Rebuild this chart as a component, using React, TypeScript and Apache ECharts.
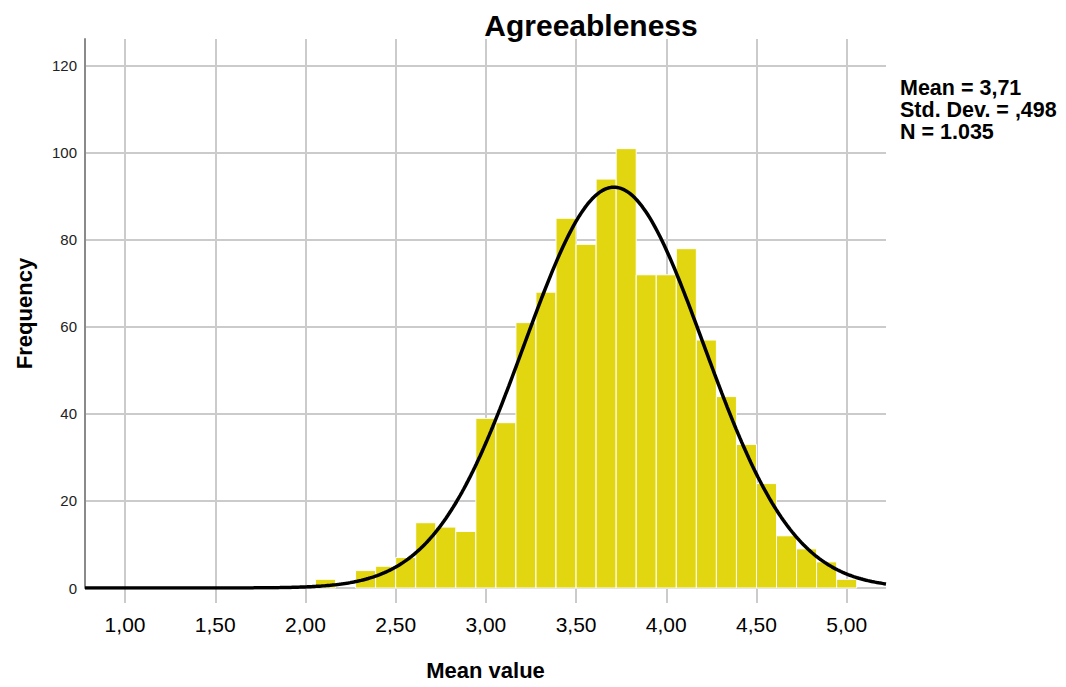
import React, { useEffect, useRef } from 'react';
import * as echarts from 'echarts';

const TITLE = 'Agreeableness';
const X_NAME = 'Mean value';
const Y_NAME = 'Frequency';
const STATS_LINES = ['Mean = 3,71', 'Std. Dev. = ,498', 'N = 1.035'];

// Summary statistics shown in the chart (used for the fitted normal curve)
const MEAN = 3.71;
const SD = 0.498;
const N = 1035;

// Histogram bins: centres (mean of 9 items => steps of 1/9) and counts
const BIN_WIDTH = 1 / 9;
const BIN_CENTERS = [
  19 / 9, 20 / 9, 21 / 9, 22 / 9, 23 / 9, 24 / 9, 25 / 9, 26 / 9, 27 / 9,
  28 / 9, 29 / 9, 30 / 9, 31 / 9, 32 / 9, 33 / 9, 34 / 9, 35 / 9, 36 / 9,
  37 / 9, 38 / 9, 39 / 9, 40 / 9, 41 / 9, 42 / 9, 43 / 9, 44 / 9, 45 / 9,
];
const FREQUENCIES = [
  2, 0, 4, 5, 7, 15, 14, 13, 39,
  38, 61, 68, 85, 79, 94, 101, 72, 72,
  78, 57, 44, 33, 24, 12, 9, 6, 2,
];

const X_TICKS = [1, 1.5, 2, 2.5, 3, 3.5, 4, 4.5, 5];
const Y_TICKS = [0, 20, 40, 60, 80, 100, 120];
const X_MIN = 0.778;
const X_MAX = 5.218;
const Y_MAX = 126.2;

const FONT = '"Liberation Sans", Arial, sans-serif';
const BAR_COLOR = '#e1d60f';
const GRID_COLOR = '#cbcbcb';

function normalCurve(): number[][] {
  const pts: number[][] = [];
  const scale = (N * BIN_WIDTH) / (SD * Math.sqrt(2 * Math.PI));
  for (let x = X_MIN; x <= X_MAX + 1e-9; x += 0.01) {
    const z = (x - MEAN) / SD;
    pts.push([x, scale * Math.exp(-0.5 * z * z)]);
  }
  return pts;
}

export default function App() {
  const ref = useRef<HTMLDivElement>(null);

  useEffect(() => {
    document.body.style.margin = '0';
    if (!ref.current) return;
    const chart = echarts.init(ref.current, undefined, { renderer: 'svg' });

    const barData = BIN_CENTERS.map((c, i) => [c, FREQUENCIES[i]]);

    const option: any = {
      animation: false,
      backgroundColor: '#ffffff',
      title: {
        text: TITLE,
        left: 586,
        top: 5,
        textAlign: 'center',
        textStyle: { fontSize: 30, fontWeight: 'bold', color: '#000', fontFamily: FONT },
      },
      grid: { left: 85, right: 180, top: 39, bottom: 99, containLabel: false },
      xAxis: {
        type: 'value',
        min: X_MIN,
        max: X_MAX,
        name: X_NAME,
        nameLocation: 'middle',
        nameGap: 71,
        nameTextStyle: { fontSize: 22, fontWeight: 'bold', color: '#000', fontFamily: FONT },
        axisLine: { show: false },
        axisTick: {
          show: true,
          customValues: X_TICKS,
          length: 15,
          lineStyle: { color: GRID_COLOR, width: 2 },
        },
        axisLabel: {
          customValues: X_TICKS,
          formatter: (v: number) => v.toFixed(2).replace('.', ','),
          fontSize: 21,
          color: '#000',
          margin: 26,
          fontFamily: FONT,
        },
        splitLine: { show: true, lineStyle: { color: GRID_COLOR, width: 2 } },
      },
      yAxis: {
        type: 'value',
        min: 0,
        max: Y_MAX,
        name: Y_NAME,
        nameLocation: 'middle',
        nameGap: 50,
        nameTextStyle: { fontSize: 22, fontWeight: 'bold', color: '#000', fontFamily: FONT },
        axisLine: { show: true, lineStyle: { color: '#8a8a8a', width: 2 } },
        axisTick: { show: false, customValues: Y_TICKS },
        axisLabel: {
          customValues: Y_TICKS,
          fontSize: 15,
          color: '#222',
          margin: 8,
          fontFamily: FONT,
        },
        splitLine: { show: true, lineStyle: { color: GRID_COLOR, width: 2 } },
      },
      graphic: STATS_LINES.map((line, i) => ({
        type: 'text',
        left: 900,
        top: 77 + i * 22,
        style: {
          text: line,
          fontSize: 21.5,
          fontWeight: 'bold',
          fontFamily: FONT,
          lineHeight: 21.5,
          fill: '#000',
        },
      })),
      series: [
        {
          type: 'custom',
          z: 2,
          silent: true,
          data: barData,
          renderItem: (params: any, api: any) => {
            const x = api.value(0);
            const y = api.value(1);
            if (!y) return null;
            const p0 = api.coord([x - BIN_WIDTH / 2, y]);
            const p1 = api.coord([x + BIN_WIDTH / 2, 0]);
            return {
              type: 'rect',
              shape: { x: p0[0], y: p0[1], width: p1[0] - p0[0], height: p1[1] - p0[1] },
              style: { fill: BAR_COLOR, stroke: '#ffffff', lineWidth: 1 },
            };
          },
        },
        {
          type: 'line',
          z: 3,
          silent: true,
          showSymbol: false,
          symbol: 'none',
          data: normalCurve(),
          lineStyle: { color: '#000', width: 3.5 },
        },
      ],
    };

    chart.setOption(option);
    return () => chart.dispose();
  }, []);

  return <div ref={ref} style={{ width: 1066, height: 687 }} />;
}
